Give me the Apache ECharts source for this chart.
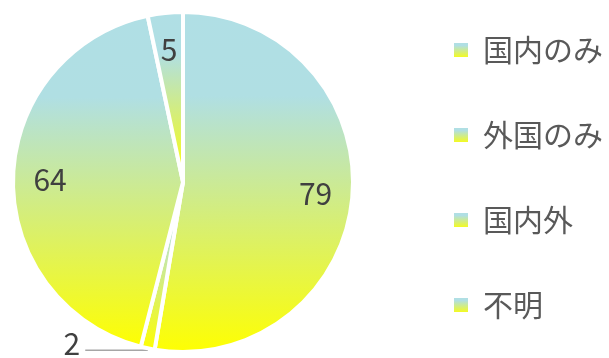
<!DOCTYPE html>
<html>
<head>
<meta charset="utf-8">
<script src="https://cdn.jsdelivr.net/npm/echarts@6/dist/echarts.min.js"></script>
<style>
html, body { margin: 0; padding: 0; background: #fff; }
#chart { width: 609px; height: 358px; }
</style>
</head>
<body>
<div id="chart"></div>
<script>
var names = ['国内のみ', '外国のみ', '国内外', '不明'];
var values = [79, 2, 64, 5];
var fontFamily = '"Noto Sans CJK JP", "Noto Sans", sans-serif';

function grad() {
	return new echarts.graphic.LinearGradient(0, 0, 0, 1, [
		{ offset: 0, color: '#b0dfe5' },
		{ offset: 0.25, color: '#b0dfe3' },
		{ offset: 1, color: '#ffff00' }
	]);
}

var pieData = [], labelData = [];
for (var i = 0; i < values.length; i++) {
	var small = values[i] < 4;
	pieData.push({
		name: names[i],
		value: values[i],
		itemStyle: { color: grad() },
		label: { show: small },
		labelLine: { show: small }
	});
	labelData.push({
		name: names[i],
		value: values[i],
		label: { show: !small }
	});
}

var option = {
	animation: false,
	legend: {
		orient: 'vertical',
		left: 447,
		top: 30,
		itemGap: 55,
		itemWidth: 16,
		itemHeight: 16,
		icon: 'rect',
		selectedMode: false,
		textStyle: { fontSize: 30, color: '#595959', fontFamily: fontFamily, padding: [0, 0, 0, 9] },
		data: names.map(function(n) {
			return { name: n, itemStyle: { color: grad() } };
		})
	},
	series: [{
		type: 'pie',
		center: [183, 182],
		radius: [0, 170],
		startAngle: 90,
		avoidLabelOverlap: false,
		data: pieData,
		itemStyle: { borderColor: '#fff', borderWidth: 4 },
		label: {
			position: 'outside',
			formatter: '{c}\n{s|}',
			fontSize: 30,
			color: '#404040',
			fontFamily: fontFamily,
			rich: { s: { height: 14, fontSize: 10 } }
		},
		labelLine: {
			length: 2,
			length2: 62,
			lineStyle: { color: '#a6a6a6', width: 1.5 }
		}
	}, {
		type: 'pie',
		center: [183, 182],
		radius: [0, 260],
		startAngle: 90,
		silent: true,
		data: labelData,
		itemStyle: { color: 'rgba(0,0,0,0)' },
		label: {
			position: 'inside',
			formatter: '{c}',
			fontSize: 30,
			color: '#404040',
			fontFamily: fontFamily
		},
		labelLine: { show: false }
	}]
};

var chart = echarts.init(document.getElementById('chart'));
chart.setOption(option);
</script>
</body>
</html>
